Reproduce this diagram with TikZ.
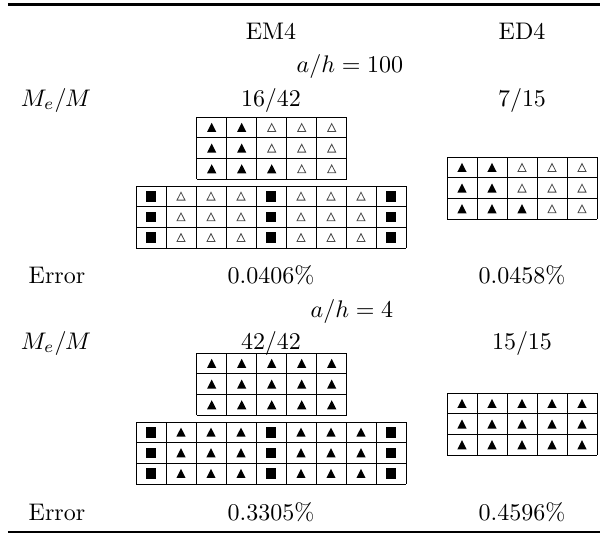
\documentclass[tikz,border=0pt]{standalone}
\begin{document}
\begin{tikzpicture}[x=0.4167pt,y=-0.4167pt,
  txt/.style={inner sep=0pt,anchor=base},
  gridline/.style={line width=0.4pt,draw=black},
  opentri/.style={line width=0.35pt,draw=black!70},
  rulethick/.style={line width=0.9pt}]
\useasboundingbox (0,0) rectangle (600,534);
\newcommand\symb[3]{%
  \ifcase#1\relax
    \draw[opentri] (#2-4,#3+3.8) -- (#2+4,#3+3.8) -- (#2,#3-4) -- cycle;
  \or
    \fill (#2-4.6,#3+4.3) -- (#2+4.6,#3+4.3) -- (#2,#3-4.8) -- cycle;
  \or
    \fill (#2-4.6,#3-5.3) rectangle (#2+4.6,#3+5.3);
  \fi}
\newcommand\cellgrid[5]{% x0, y0, ncols, nrows, rows list
  \foreach \kk in {0,...,#3}
    \draw[gridline] (#1+30*\kk,#2) -- (#1+30*\kk,#2+20.667*#4);
  \foreach \kk in {0,...,#4}
    \draw[gridline] (#1,#2+20.667*\kk) -- (#1+30*#3,#2+20.667*\kk);
  \foreach \rowl [count=\rri from 0] in {#5} {
    \foreach \sv [count=\cci from 0] in \rowl {
      \symb{\sv}{#1+30*\cci+15}{#2+20.667*\rri+10.333}
    }
  }}
% rules
\draw[rulethick] (8,4.5) -- (600,4.5);
\draw[rulethick] (8,531.8) -- (600,531.8);
% header
\node[txt] (hem) at (271,39) {EM4};
\node[txt] (hed) at (522,39) {ED4};
\node[txt] (ah1) at (350,72) {$a/h=100$};
\node[txt] (me1) at (56,106) {$M_e/M$};
\node[txt] (r1a) at (271,106) {16/42};
\node[txt] (r1b) at (522,106) {7/15};
% grids a/h = 100
\cellgrid{196.7}{117.3}{5}{3}{{1,1,0,0,0},{1,1,0,0,0},{1,1,1,0,0}}
\cellgrid{136}{186}{9}{3}{{2,0,0,0,2,0,0,0,2},{2,0,0,0,2,0,0,0,2},{2,0,0,0,2,0,0,0,2}}
\cellgrid{447}{157.3}{5}{3}{{1,1,0,0,0},{1,1,0,0,0},{1,1,1,0,0}}
\node[txt] (er1) at (57,283) {Error};
\node[txt] (e1a) at (271,283) {0.0406\%};
\node[txt] (e1b) at (522,283) {0.0458\%};
% a/h = 4
\node[txt] (ah2) at (352,317) {$a/h=4$};
\node[txt] (me2) at (56,349) {$M_e/M$};
\node[txt] (r2a) at (271,349) {42/42};
\node[txt] (r2b) at (522,349) {15/15};
\cellgrid{196.7}{353.3}{5}{3}{{1,1,1,1,1},{1,1,1,1,1},{1,1,1,1,1}}
\cellgrid{136}{422}{9}{3}{{2,1,1,1,2,1,1,1,2},{2,1,1,1,2,1,1,1,2},{2,1,1,1,2,1,1,1,2}}
\cellgrid{447}{393.3}{5}{3}{{1,1,1,1,1},{1,1,1,1,1},{1,1,1,1,1}}
\node[txt] (er2) at (57,520) {Error};
\node[txt] (e2a) at (271,520) {0.3305\%};
\node[txt] (e2b) at (522,520) {0.4596\%};
\end{tikzpicture}
\end{document}
